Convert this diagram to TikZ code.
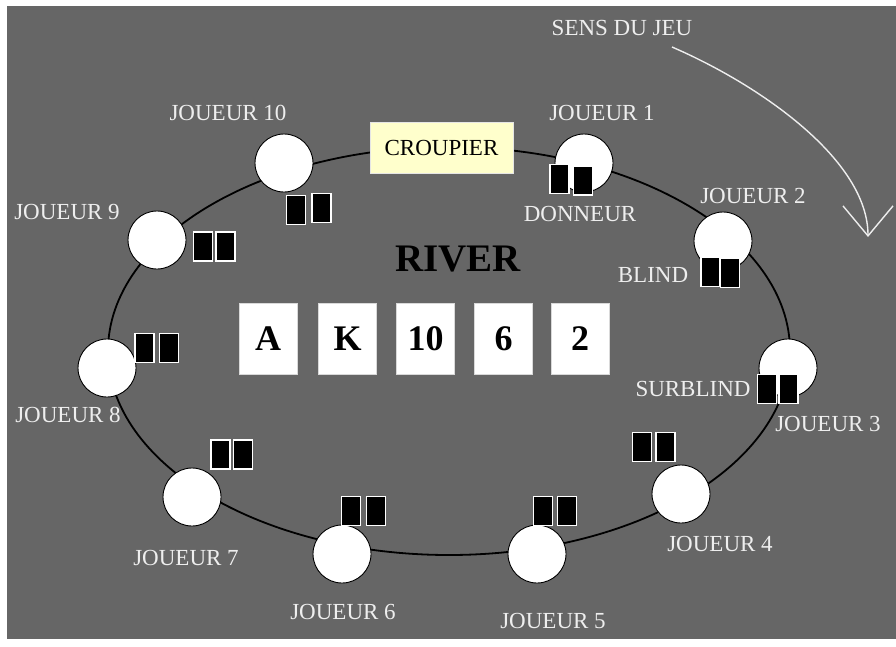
\documentclass[tikz,border=0pt]{standalone}
\usepackage{fontspec}
\setmainfont{Liberation Serif}
\usetikzlibrary{arrows.meta}
\definecolor{felt}{RGB}{102,102,102}
\definecolor{dealerbg}{RGB}{255,255,204}
\definecolor{lbl}{RGB}{238,238,238}
\tikzset{
  player/.style={circle, fill=white, draw=black, line width=0.9pt, minimum size=58pt, inner sep=0pt},
  hole/.style={rectangle, fill=black, draw=white, line width=1.2pt, minimum width=19pt, minimum height=29pt, inner sep=0pt},
  lab/.style={text=lbl, inner sep=0pt, font=\fontsize{23}{23}\selectfont},
  board/.style={rectangle, fill=white, draw=white!85!black, line width=0.8pt, minimum width=58pt, minimum height=71pt, inner sep=0pt, font=\fontsize{36}{36}\selectfont\bfseries},
}
\begin{document}
\begin{tikzpicture}[x=1pt,y=-1pt]
\useasboundingbox (0,0) rectangle (896,646);
\fill[white] (0,0) rectangle (896,646);
\fill[felt] (7,6) rectangle (896,639);
% table
\draw[black, line width=1.8pt] (449,351) ellipse [x radius=341, y radius=204];
% dealer
\node[rectangle, fill=dealerbg, draw=white!90!black, line width=0.8pt, minimum width=143pt, minimum height=51pt, inner sep=0pt, font=\fontsize{23}{23}\selectfont] (croupier) at (441.5,147.5) {CROUPIER};
% players
\node[player] (j10) at (284,163) {};
\node[player] (j1) at (584,163) {};
\node[player] (j2) at (723,241) {};
\node[player] (j3) at (788,368) {};
\node[player] (j4) at (681,494) {};
\node[player] (j5) at (537,554) {};
\node[player] (j6) at (342,554) {};
\node[player] (j7) at (192,497) {};
\node[player] (j8) at (107,368) {};
\node[player] (j9) at (157,240) {};
% hole cards
\node[hole] (c10a) at (296,210) {};
\node[hole] (c10b) at (321.5,208) {};
\node[hole] (c1a) at (559.5,179) {};
\node[hole] (c1b) at (583,180.5) {};
\node[hole] (c2a) at (710.5,272) {};
\node[hole] (c2b) at (730,273) {};
\node[hole] (c3a) at (767,389) {};
\node[hole] (c3b) at (788.5,389) {};
\node[hole] (c4a) at (642,447) {};
\node[hole] (c4b) at (665.5,447) {};
\node[hole] (c5a) at (543,511) {};
\node[hole] (c5b) at (567,511) {};
\node[hole] (c6a) at (351,511) {};
\node[hole] (c6b) at (376,511) {};
\node[hole] (c7a) at (220.5,454.5) {};
\node[hole] (c7b) at (243,454.5) {};
\node[hole] (c8a) at (144.5,348) {};
\node[hole] (c8b) at (169,348) {};
\node[hole] (c9a) at (203,246.5) {};
\node[hole] (c9b) at (225.5,246.5) {};
% board
\node[text=black, inner sep=0pt, font=\fontsize{39}{39}\selectfont\bfseries] (river) at (458,259) {RIVER};
\node[board] (bA) at (268,338.5) {A};
\node[board] (bK) at (347.5,338.5) {K};
\node[board] (b10) at (425.5,338.5) {10};
\node[board] (b6) at (503.5,338.5) {6};
\node[board] (b2) at (580,338.5) {2};
% labels
\node[lab] (sens) at (622,28) {SENS DU JEU};
\node[lab] (l10) at (228,113) {JOUEUR 10};
\node[lab] (l1) at (602,113) {JOUEUR 1};
\node[lab] (l2) at (753,196) {JOUEUR 2};
\node[lab] (donneur) at (580,214) {DONNEUR};
\node[lab] (l9) at (67,212) {JOUEUR 9};
\node[lab] (blind) at (653,275) {BLIND};
\node[lab] (surblind) at (693,389) {SURBLIND};
\node[lab] (l8) at (68,415) {JOUEUR 8};
\node[lab] (l3) at (828,424) {JOUEUR 3};
\node[lab] (l4) at (720,544) {JOUEUR 4};
\node[lab] (l7) at (186,558) {JOUEUR 7};
\node[lab] (l6) at (343,612) {JOUEUR 6};
\node[lab] (l5) at (553,621) {JOUEUR 5};
% direction arrow
\coordinate (arrS) at (672,47);
\coordinate (arrE) at (868,237);
\draw[lbl, line width=1.4pt, -{Straight Barb[length=30pt, width=50pt, line width=1.4pt]}] (arrS) .. controls (760,85) and (868,160) .. (arrE);
\end{tikzpicture}
\end{document}
